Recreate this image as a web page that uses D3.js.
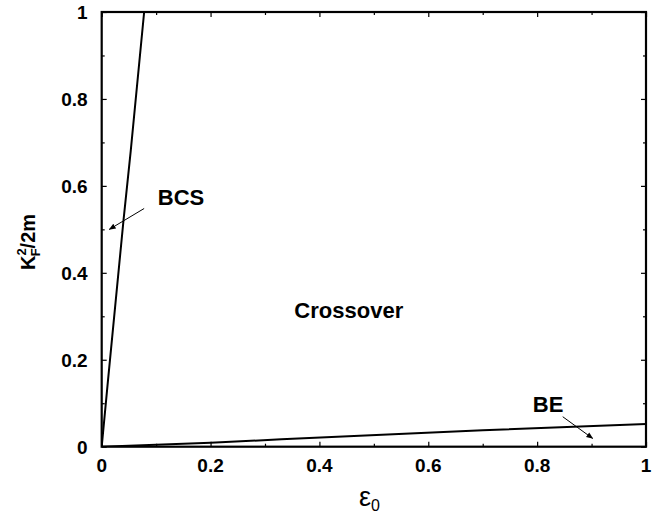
<!DOCTYPE html>
<html>
<head>
<meta charset="utf-8">
<script src="https://cdn.jsdelivr.net/npm/d3@7"></script>
<style>
  body { margin: 0; background: #fff; }
  svg text { font-family: "Liberation Sans", Arial, Helvetica, sans-serif; }
</style>
</head>
<body>
<div id="chart"></div>
<script>
// data
var bcsEps = [0, 0.0116, 0.04, 0.0533, 0.078];
var bcsK   = [0, 0.153, 0.52, 0.68, 1.0];
var beEps  = [0, 0.2, 0.33, 0.7, 1.0];
var beK    = [0, 0.009, 0.017, 0.038, 0.052];
var xTicks = [0, 0.2, 0.4, 0.6, 0.8, 1];
var yTicks = [0, 0.2, 0.4, 0.6, 0.8, 1];
var minorTicks = [0.1, 0.3, 0.5, 0.7, 0.9];

var svgWidth = 668;
var svgHeight = 522;
var margin = { top: 12, right: 22, bottom: 75.3, left: 101.7 };
var width = svgWidth - margin.left - margin.right;
var height = svgHeight - margin.top - margin.bottom;

var svg = d3.select("#chart").append("svg")
  .attr("width", svgWidth)
  .attr("height", svgHeight);

var g = svg.append("g")
  .attr("transform", `translate(${margin.left}, ${margin.top})`);

var x = d3.scaleLinear().domain([0, 1]).range([0, width]);
var y = d3.scaleLinear().domain([0, 1]).range([height, 0]);

// axes with inward ticks, labels drawn separately
function tickAxis(axis, scale, vals, len) {
  return axis(scale).tickValues(vals).tickSize(-len).tickFormat("");
}
g.append("g").attr("transform", `translate(0, ${height})`).call(tickAxis(d3.axisBottom, x, xTicks, 5));
g.append("g").attr("transform", `translate(0, ${height})`).call(tickAxis(d3.axisBottom, x, minorTicks, 3));
g.append("g").call(tickAxis(d3.axisTop, x, xTicks, 5));
g.append("g").call(tickAxis(d3.axisTop, x, minorTicks, 3));
g.append("g").call(tickAxis(d3.axisLeft, y, yTicks, 5));
g.append("g").call(tickAxis(d3.axisLeft, y, minorTicks, 3));
g.append("g").attr("transform", `translate(${width}, 0)`).call(tickAxis(d3.axisRight, y, yTicks, 5));
g.append("g").attr("transform", `translate(${width}, 0)`).call(tickAxis(d3.axisRight, y, minorTicks, 3));
g.selectAll(".domain").remove();
g.selectAll(".tick line").attr("stroke", "#000").attr("stroke-width", 1.2);

// frame
g.append("rect")
  .attr("width", width).attr("height", height)
  .attr("fill", "none").attr("stroke", "#000").attr("stroke-width", 2.2);

// tick labels
g.selectAll(".xlab").data(xTicks).enter().append("text")
  .attr("x", d => x(d)).attr("y", height + 25)
  .attr("text-anchor", "middle")
  .attr("font-size", "19px").attr("font-weight", "bold")
  .text(d => d3.format("")(d));

g.selectAll(".ylab").data(yTicks).enter().append("text")
  .attr("x", -14).attr("y", d => y(d))
  .attr("dy", "0.36em")
  .attr("text-anchor", "end")
  .attr("font-size", "19px").attr("font-weight", "bold")
  .text(d => d3.format("")(d));

// curves
g.append("clipPath").attr("id", "clip")
  .append("rect").attr("width", width).attr("height", height);

var line = d3.line().x(d => x(d[0])).y(d => y(d[1]));

g.append("path")
  .datum(d3.zip(bcsEps, bcsK))
  .attr("clip-path", "url(#clip)")
  .attr("d", line)
  .attr("fill", "none").attr("stroke", "#000").attr("stroke-width", 2);

g.append("path")
  .datum(d3.zip(beEps, beK))
  .attr("clip-path", "url(#clip)")
  .attr("d", line)
  .attr("fill", "none").attr("stroke", "#000").attr("stroke-width", 2);

// arrows
svg.append("defs").append("marker")
  .attr("id", "arrow")
  .attr("viewBox", "0 0 10 10")
  .attr("refX", 9).attr("refY", 5)
  .attr("markerWidth", 7).attr("markerHeight", 7)
  .attr("markerUnits", "userSpaceOnUse")
  .attr("orient", "auto")
  .append("path").attr("d", "M0,1 L10,5 L0,9 z").attr("fill", "#000");

var arrows = [
  [[0.078, 0.548], [0.014, 0.50]],
  [[0.847, 0.069], [0.902, 0.019]]
];
g.selectAll(".arrow").data(arrows).enter().append("line")
  .attr("x1", d => x(d[0][0])).attr("y1", d => y(d[0][1]))
  .attr("x2", d => x(d[1][0])).attr("y2", d => y(d[1][1]))
  .attr("stroke", "#000").attr("stroke-width", 1)
  .attr("marker-end", "url(#arrow)");

// region labels
var labels = [
  { t: "BCS", e: 0.103, k: 0.556 },
  { t: "Crossover", e: 0.354, k: 0.297 },
  { t: "BE", e: 0.792, k: 0.080 }
];
g.selectAll(".region").data(labels).enter().append("text")
  .attr("x", d => x(d.e)).attr("y", d => y(d.k))
  .attr("font-size", "22px").attr("font-weight", "bold")
  .text(d => d.t);

// axis titles
var yTitle = svg.append("text")
  .attr("transform", "translate(35, 242) rotate(-90)")
  .attr("text-anchor", "middle")
  .attr("font-size", "20px").attr("font-weight", "bold");
yTitle.append("tspan").text("K");
yTitle.append("tspan").attr("font-size", "13px").attr("dy", "-9").text("2");
yTitle.append("tspan").attr("font-size", "13px").attr("dx", "-8").attr("dy", "14").text("F");
yTitle.append("tspan").attr("dy", "-5").text("/2m");

var xTitle = svg.append("text")
  .attr("x", 359).attr("y", 506)
  .attr("font-family", "'DejaVu Serif', serif")
  .attr("font-size", "27px");
xTitle.append("tspan").text("ε");
xTitle.append("tspan").attr("font-size", "16px").attr("dy", "5").text("0");
</script>
</body>
</html>
